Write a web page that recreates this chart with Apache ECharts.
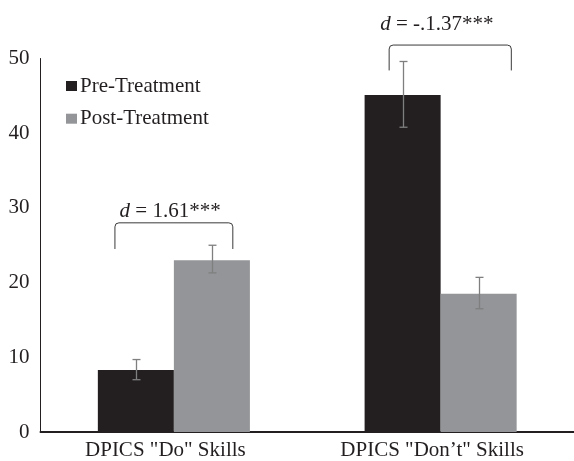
<!DOCTYPE html>
<html>
<head>
<meta charset="utf-8">
<script src="https://cdn.jsdelivr.net/npm/echarts@6/dist/echarts.min.js"></script>
<style>html,body{margin:0;padding:0;background:#fff}#c{width:574px;height:461px}</style>
</head>
<body>
<div id="c"></div>
<script>
const categories = ['DPICS "Do" Skills', 'DPICS "Don\u2019t" Skills'];
const seriesNames = ['Pre-Treatment', 'Post-Treatment'];
const preValues = [8.3, 45.1];
const postValues = [23.0, 18.5];
const preErrLow = [7.0, 40.8];
const preErrHigh = [9.7, 49.6];
const postErrLow = [21.3, 16.5];
const postErrHigh = [25.0, 20.7];
const bracketTop = [28.0, 51.8];
const bracketEnd = [24.5, 48.4];
const bracketLabelY = [29.5, 54.6];
const effectLabels = ['1.61***', '-.1.37***'];
const yTicks = [0, 10, 20, 30, 40, 50];

const FONT = '"Liberation Serif", "Times New Roman", serif';
const TXT = '#231f20';
const PRE_C = '#231f20';
const POST_C = '#939598';
const ERR_C = '#7f7f7f';
const GAP = 0.43;
// bracket horizontal extents as fractions of category band width
const bracketLayout = [
  { l: -0.221, r: 0.221, t: -0.014 },
  { l: -0.193, r: 0.265, t: -0.014 }
];

const chart = echarts.init(document.getElementById('c'), null, { renderer: 'canvas' });

function errRender(sign, lows, highs) {
  return function (params, api) {
    const i = api.value(0);
    const band = api.size([1, 0])[0];
    const barW = band * (1 - GAP) / 2;
    const lo = api.coord([i, lows[i]]);
    const hi = api.coord([i, highs[i]]);
    const x = Math.round(lo[0] + sign * barW / 2) + 0.5;
    const cap = 4;
    const st = { stroke: ERR_C, lineWidth: 1.3 };
    return {
      type: 'group',
      children: [
        { type: 'line', shape: { x1: x, y1: lo[1], x2: x, y2: hi[1] }, style: st },
        { type: 'line', shape: { x1: x - cap, y1: lo[1], x2: x + cap, y2: lo[1] }, style: st },
        { type: 'line', shape: { x1: x - cap, y1: hi[1], x2: x + cap, y2: hi[1] }, style: st }
      ]
    };
  };
}

function bracketRender(params, api) {
  const i = api.value(0);
  const band = api.size([1, 0])[0];
  const c = api.coord([i, bracketTop[i]]);
  const e = api.coord([i, bracketEnd[i]]);
  const t = api.coord([i, bracketLabelY[i]]);
  const L = c[0] + bracketLayout[i].l * band;
  const R = c[0] + bracketLayout[i].r * band;
  const top = c[1], end = e[1], r = 4;
  const path = 'M' + L + ',' + end + ' L' + L + ',' + (top + r) +
    ' Q' + L + ',' + top + ' ' + (L + r) + ',' + top +
    ' L' + (R - r) + ',' + top +
    ' Q' + R + ',' + top + ' ' + R + ',' + (top + r) +
    ' L' + R + ',' + end;
  return {
    type: 'group',
    children: [
      { type: 'path', shape: { pathData: path }, style: { stroke: '#3a3a3a', lineWidth: 1, fill: null } },
      {
        type: 'text',
        x: c[0] + bracketLayout[i].t * band,
        y: t[1],
        style: {
          text: '{i|d}{n| = ' + effectLabels[i] + '}',
          align: 'center',
          verticalAlign: 'middle',
          rich: {
            i: { fontFamily: FONT, fontSize: 21, fontStyle: 'italic', fill: TXT },
            n: { fontFamily: FONT, fontSize: 21, fill: TXT }
          }
        }
      }
    ]
  };
}

chart.setOption({
  animation: false,
  backgroundColor: '#fff',
  textStyle: { fontFamily: FONT },
  grid: { left: 40.5, width: 537, top: 58.5, bottom: 28.5 },
  legend: {
    orient: 'vertical',
    left: 61,
    top: 70.5,
    itemWidth: 11,
    itemHeight: 10,
    itemGap: 11.7,
    data: seriesNames.map(n => ({ name: n, icon: 'rect' })),
    textStyle: { fontFamily: FONT, fontSize: 21, color: TXT, lineHeight: 21, padding: [0, 0, 0, -2] }
  },
  xAxis: {
    type: 'category',
    data: categories,
    axisLine: { lineStyle: { color: TXT, width: 2 } },
    axisTick: { show: false },
    axisLabel: { fontFamily: FONT, fontSize: 21, color: TXT, margin: 8, padding: [0, 17, 0, 0] }
  },
  yAxis: {
    type: 'value',
    min: yTicks[0],
    max: yTicks[yTicks.length - 1],
    interval: 10,
    axisLine: { show: true, lineStyle: { color: TXT, width: 1 } },
    axisTick: { show: false },
    splitLine: { show: false },
    axisLabel: { fontFamily: FONT, fontSize: 21, color: TXT, margin: 11 }
  },
  series: [
    { name: seriesNames[0], type: 'bar', data: preValues, barGap: 0, barCategoryGap: '43%', itemStyle: { color: PRE_C } },
    { name: seriesNames[1], type: 'bar', data: postValues, barGap: 0, barCategoryGap: '43%', itemStyle: { color: POST_C } },
    { type: 'custom', renderItem: errRender(-1, preErrLow, preErrHigh), data: categories.map((c, i) => [i]), z: 5, silent: true },
    { type: 'custom', renderItem: errRender(1, postErrLow, postErrHigh), data: categories.map((c, i) => [i]), z: 5, silent: true },
    { type: 'custom', renderItem: bracketRender, data: categories.map((c, i) => [i]), z: 6, clip: false, silent: true }
  ]
});
</script>
</body>
</html>
